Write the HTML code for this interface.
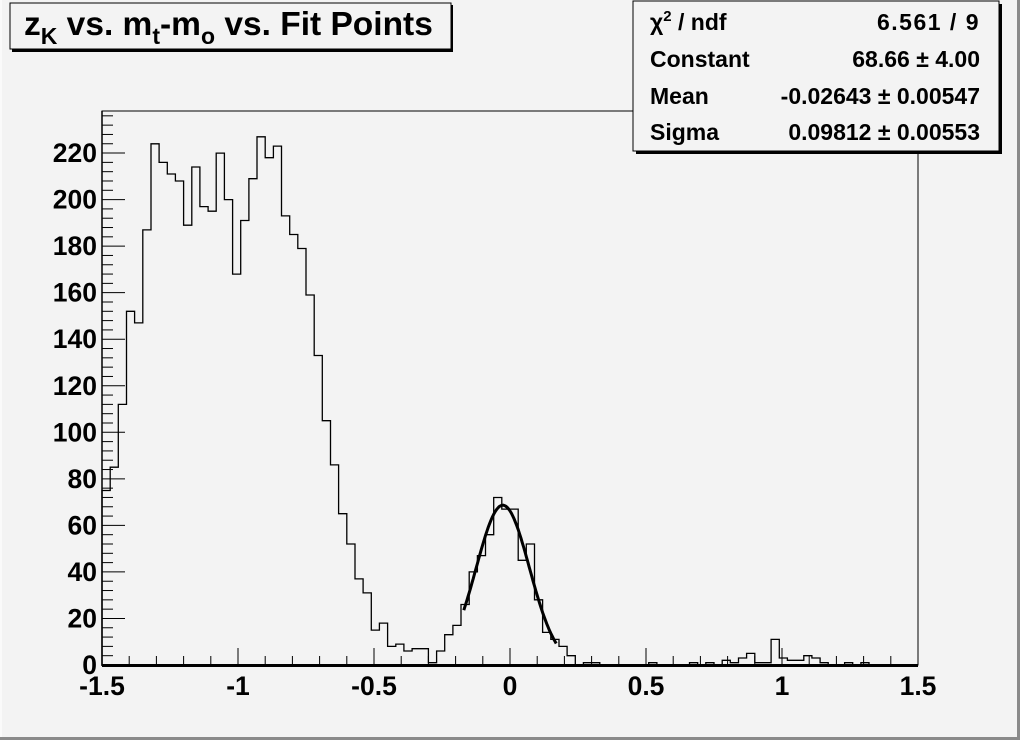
<!DOCTYPE html>
<html><head><meta charset="utf-8"><style>
html,body{margin:0;padding:0;background:#f3f3f3}
svg{display:block}
text{font-family:"Liberation Sans",Arial,sans-serif;font-weight:bold;fill:#000}
</style></head><body>
<svg id="s" width="1020" height="740" xmlns="http://www.w3.org/2000/svg">
<rect x="0" y="0" width="1020" height="740" fill="#f3f3f3"/>
<rect x="1017" y="0" width="3" height="740" fill="#8a8a8a"/>
<rect x="0" y="737" width="1020" height="3" fill="#8a8a8a"/>
<rect x="0" y="0" width="2" height="737" fill="#fafafa"/>
<rect x="102" y="111" width="816" height="554" fill="none" stroke="#000" stroke-width="1"/>
<g id="ticks" stroke="#000" stroke-width="1"></g>
<path id="hist" fill="none" stroke="#000" stroke-width="1.3"/>
<path id="fit" fill="none" stroke="#000" stroke-width="3"/>
<line x1="102" y1="665.5" x2="918" y2="665.5" stroke="#000" stroke-width="3"/>
<line x1="102" y1="111" x2="102" y2="666" stroke="#000" stroke-width="1.5"/>
<g id="lab" font-size="26.5"></g>
<rect x="12" y="5" width="441" height="47" fill="#000"/>
<rect x="10" y="3" width="441" height="46" fill="#f3f3f3" stroke="#000" stroke-width="1"/>
<text x="24" y="35" font-size="33.5">z<tspan font-size="23" dy="9">K</tspan><tspan dy="-9"> vs. m</tspan><tspan font-size="23" dy="9">t</tspan><tspan dy="-9">-m</tspan><tspan font-size="23" dy="9">o</tspan><tspan dy="-9"> vs. Fit Points</tspan></text>
<rect x="636" y="4" width="366" height="150" fill="#000"/>
<rect x="633" y="1" width="366" height="150" fill="#f3f3f3" stroke="#000" stroke-width="1"/>
<g font-size="23">
<text x="650" y="30">χ<tspan font-size="15" dy="-9">2</tspan><tspan dy="9"> / ndf</tspan></text>
<text x="980" y="30" text-anchor="end" letter-spacing="1.5">6.561 / 9</text>
<text x="650" y="67">Constant</text>
<text x="980" y="67" text-anchor="end">68.66 ± 4.00</text>
<text x="650" y="104">Mean</text>
<text x="980" y="104" text-anchor="end">-0.02643 ± 0.00547</text>
<text x="650" y="140">Sigma</text>
<text x="980" y="140" text-anchor="end">0.09812 ± 0.00553</text>
</g>
</svg>
<script>
var v=[75,85,112,152,147,187,224,216,211,208,189,214,197,195,220,200,168,191,209,227,218,223,193,185,179,159,133,105,86,65,52,37,31,15,18,8,9,6,7,7,1,6,13,17,26,40,47,56,72,67,67,45,52,28,14,11,8,4,0,1,1,0,0,0,0,0,0,1,0,0,0,0,1,0,1,0,2,1,3,5,1,1,11,3,2,2,4,3,1,0,0,1,0,1,0,0,0,0,0,0];
var X0=102,W=816,Y0=665,K=2.327,bw=W/100;
var d="M"+X0+","+Y0;
for(var i=0;i<100;i++){var y=(Y0-v[i]*K).toFixed(1);d+=" L"+(X0+i*bw).toFixed(1)+","+y+" L"+(X0+(i+1)*bw).toFixed(1)+","+y;}
d+=" L"+(X0+W)+","+Y0;
document.getElementById("hist").setAttribute("d",d);
var f="";
for(var x=-0.17;x<=0.175;x+=0.005){var yy=68.66*Math.exp(-0.5*Math.pow((x+0.02643)/0.09812,2));f+=(f?" L":"M")+(X0+(x+1.5)*272).toFixed(1)+","+(Y0-yy*K).toFixed(1);}
document.getElementById("fit").setAttribute("d",f);
var t=document.getElementById("ticks"),L=document.getElementById("lab"),ns="http://www.w3.org/2000/svg";
function ln(a,b,c,e){var l=document.createElementNS(ns,"line");l.setAttribute("x1",a);l.setAttribute("y1",b);l.setAttribute("x2",c);l.setAttribute("y2",e);t.appendChild(l);}
function tx(s,x,y,anc){var e=document.createElementNS(ns,"text");e.setAttribute("x",x);e.setAttribute("y",y);e.setAttribute("text-anchor",anc);e.textContent=s;L.appendChild(e);}
for(var k=0;k<=30;k++){var px=X0+k*27.2;ln(px,Y0,px,Y0-(k%5==0?17:9));}
var xl=["-1.5","-1","-0.5","0","0.5","1","1.5"];
for(var k=0;k<7;k++)tx(xl[k],X0+k*136,695,"middle");
for(var c=0;c<=236;c+=4){var py=Y0-c*K;if(py<111)break;ln(X0,py,X0+(c%20==0?23:11),py);}
for(var c=0;c<=220;c+=20)tx(String(c),97,Y0-c*K+9,"end");
</script>
</body></html>
